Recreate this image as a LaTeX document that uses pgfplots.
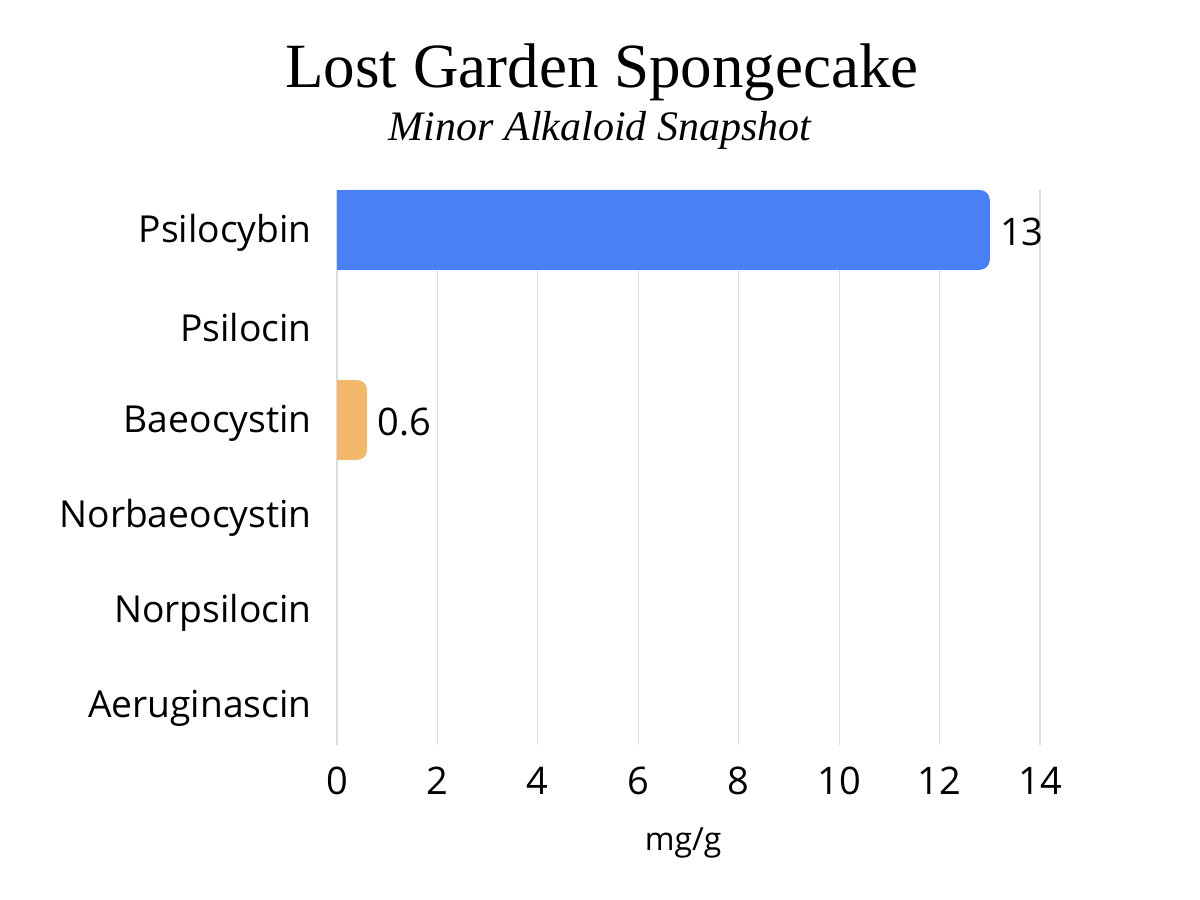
\documentclass[border=0pt]{standalone}
\usepackage{pgfplots}
\pgfplotsset{compat=1.18}
\usepackage{fontspec}
\setmainfont{Open Sans}
\newfontfamily\titlefont{Liberation Serif}
\definecolor{barblue}{HTML}{4A80F5}
\definecolor{barorange}{HTML}{F3B86B}
\definecolor{gridgray}{HTML}{DDDDDD}
\begin{document}
\begin{tikzpicture}
\path (0,0) rectangle (600bp,450bp);
\node[anchor=base,font=\titlefont\fontsize{31.5bp}{36bp}\selectfont] at (301bp,406bp) {Lost Garden Spongecake};
\node[anchor=base,font=\titlefont\itshape\fontsize{21bp}{25bp}\selectfont] at (300bp,379.5bp) {Minor Alkaloid Snapshot};
\begin{axis}[
  at={(168.5bp,77.5bp)}, anchor=south west,
  width=351.5bp, height=277.5bp, scale only axis,
  xbar, bar width=0.84,
  xmin=0, xmax=14,
  ymin=-0.42, ymax=5.42, y dir=reverse,
  ytick={0,1,2,3,4,5},
  yticklabels={Psilocybin,Psilocin,Baeocystin,Norbaeocystin,Norpsilocin,Aeruginascin},
  xtick={0,2,4,6,8,10,12,14},
  axis line style={draw=none},
  major tick length=0pt,
  tick style={draw=none},
  xmajorgrids, grid style={gridgray, line width=0.6pt},
  /pgf/number format/assume math mode=true,
  tick label style={font=\fontsize{19bp}{23bp}\selectfont, inner sep=0pt},
  yticklabel style={anchor=east, xshift=-12.5bp, yshift=-1.5bp, font=\fontsize{18.6bp}{22bp}\selectfont},
  xticklabel style={anchor=north, yshift=-11bp},
  xlabel={mg/g},
  xlabel style={at={(axis description cs:0.4925,0)}, anchor=base, yshift=-52.5bp, inner sep=0pt, font=\fontsize{16bp}{19bp}\selectfont},
  nodes near coords={\pgfmathprintnumber{\pgfplotspointmeta}},
  nodes near coords style={anchor=west, inner sep=0pt, xshift=5bp, yshift=-1bp, font=\fontsize{19bp}{23bp}\selectfont},
  point meta=explicit,
  clip=false,
]
\addplot[fill=barblue, draw=none, rounded corners=5bp, bar shift=0pt] coordinates {(13,0) [13]};
\addplot[fill=barblue, draw=none, bar shift=0pt, nodes near coords={}, forget plot] coordinates {(0.5,0) [0.5]};
\addplot[fill=barorange, draw=none, rounded corners=5bp, bar shift=0pt] coordinates {(0.6,2) [0.6]};
\addplot[fill=barorange, draw=none, bar shift=0pt, nodes near coords={}, forget plot] coordinates {(0.2,2) [0.2]};
\end{axis}
\end{tikzpicture}
\end{document}
